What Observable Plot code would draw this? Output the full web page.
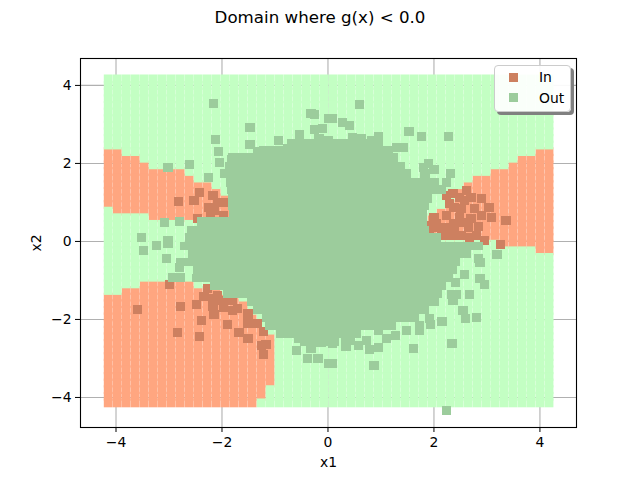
<!DOCTYPE html>
<html><head><meta charset="utf-8">
<script src="https://cdn.jsdelivr.net/npm/d3@7"></script>
<script src="https://cdn.jsdelivr.net/npm/@observablehq/plot@0.6"></script>
<style>
body{margin:0;background:#fff;font-family:"DejaVu Sans",sans-serif}
#wrap{position:relative;width:640px;height:480px}
#title{position:absolute;left:0;top:8px;width:640px;text-align:center;font-size:16.67px;line-height:20px;color:#000}
#legend{position:absolute;left:494px;top:65px;width:75px;height:45px;background:rgba(255,255,255,.92);border:1px solid #ccc;border-radius:4px;box-shadow:3px 3px 0 #808080;font-size:13.9px;color:#000}
#legend i{position:absolute;left:14px;width:9px;height:9px}
#legend span{position:absolute;left:44px;line-height:16px}
svg{display:block}
</style></head><body>
<div id="wrap"><div id="chart"></div><div id="title">Domain where g(x) &lt; 0.0</div>
<div id="legend"><i style="top:7px;background:#cd8060"></i><span style="top:3px">In</span><i style="top:27px;background:#9ccc9c"></i><span style="top:24px">Out</span></div></div>
<script>
const gridX=[-4.147,-3.977,-3.808,-3.638,-3.468,-3.298,-3.129,-2.959,-2.789,-2.619,-2.45,-2.28,-2.11,-1.94,-1.771,-1.601,-1.431,-1.261,-1.092,-0.922,-0.752,-0.582,-0.413,-0.243,-0.073,0.097,0.267,0.436,0.606,0.776,0.946,1.115,1.285,1.455,1.625,1.794,1.964,2.134,2.304,2.473,2.643,2.813,2.983,3.152,3.322,3.492,3.662,3.831,4.001,4.171];
const gridY=[4.167,3.998,3.828,3.659,3.489,3.32,3.15,2.981,2.811,2.642,2.472,2.303,2.133,1.964,1.794,1.625,1.455,1.286,1.116,0.947,0.777,0.608,0.438,0.269,0.099,-0.071,-0.24,-0.41,-0.579,-0.749,-0.918,-1.088,-1.257,-1.427,-1.596,-1.766,-1.935,-2.105,-2.274,-2.444,-2.613,-2.783,-2.952,-3.122,-3.291,-3.461,-3.63,-3.8,-3.969,-4.139];
// "In" runs of the grid: row index, first column, last column
const inSpans=[[11,0,1],[12,0,3],[13,0,4],[14,0,8],[15,0,9],[16,0,11],[17,0,12],[18,0,13],[19,0,13],[20,1,13],[21,5,14],
[11,48,49],[12,46,49],[13,45,49],[14,43,49],[15,41,49],[16,40,49],[17,39,49],[18,39,49],[19,38,49],[20,37,49],[21,36,49],[22,36,49],[23,36,49],[24,36,49],[25,44,49],[26,48,49],
[31,4,9],[32,2,12],[33,0,14],[34,0,15],[35,0,15],[36,0,16],[37,0,16],[38,0,17],[39,0,18],[40,0,18],[41,0,18],[42,0,18],[43,0,18],[44,0,18],[45,0,18],[46,0,18],[47,0,17],[48,0,17],[49,0,16]];
const inPoints=[[3.25,-0.08],[3.36,0.54],[2.84,0.38],[2.95,0.03],[3.08,0.62],[2.89,1.1],[2.61,1.31],[2.36,1.23],[2.57,1.05],[2.38,0.87],[2.76,0.85],[3.04,0.87],[2.04,0.46],[2,0.62],[2.19,0.21],[2.51,0.15],[2.65,0.36],[2.38,0.46],[2.23,0.36],[2.48,0.62],[1.91,0.28],[2.08,0.36],[2.67,0.1],[2.29,0.97],[2.23,0.67],[1.95,0.41],[2.14,0.15],[2.32,0.15],[2.7,0.59],[2.51,0.85],[2.7,1.13],[2.48,1.13],[2.89,0.67],[2.8,0.15],[2.38,0.28],[2.55,0.49],[2.23,1.18],
[-2.82,1.03],[-2.42,1.26],[-2.53,1.05],[-2.17,1.18],[-2.08,1],[-2.25,0.87],[-2.15,0.79],[-1.97,0.67],[-2.46,0.59],[-2.21,0.67],[-1.98,1],
[-3.59,-1.74],[-2.99,-1.1],[-2.78,-1.67],[-2.48,-1.62],[-2.38,-2.03],[-2.84,-2.33],[-2.42,-2.44],[-2.27,-1.21],[-2.34,-1.41],[-2.17,-1.46],[-2.08,-1.38],[-2.17,-1.67],[-2.15,-1.87],[-1.97,-1.69],[-1.7,-1.72],[-1.8,-1.77],[-1.89,-2.13],[-1.51,-1.85],[-1.51,-2.1],[-1.34,-2.1],[-1.68,-2.33],[-1.51,-2.49],[-1.25,-2.67],[-1.17,-2.64],[-1.21,-2.9],[-1.21,-2.31],[-1.51,-1.97],[-1.98,-1.51],[-1.8,-1.51]];
const outPoints=[[-2.155,3.54],[-1.47,2.92],[-2.12,2.62],[-2.06,2.31],[-2.04,2.03],[-1.47,2.49],[-0.93,2.59],[-0.32,3.28],[-0.26,3.26],[-3.02,1.9],[-2.61,1.97],[-2.25,1.64],[-3.08,0.49],[-2.8,0.51],[-3.52,0.1],[-3.02,0.03],[-1.81,2.1],[-1.64,2.15],[-1.76,1.85],[-1.95,1.74],[-0.53,2.74],[-0.25,2.87],[-0.11,2.9],[0.02,3.15],[-0.17,2.64],[0,2.59],[-0.64,2.41],[-0.76,2.38],[-1.32,2.31],[-1.13,2.21],[-0.95,2.26],[-1.42,2.13],
[0.6,3.51],[0.09,3.15],[0.28,3.05],[0.4,2.97],[1.53,2.82],[1.76,2.69],[2.27,2.69],[0.96,2.69],[0.83,2.59],[0.64,2.64],[0.47,2.67],[0.15,2.38],[1.29,2.41],[1.42,2.41],[1.89,2],[2,1.85],[1.81,1.9],[1.83,1.74],[2.31,1.74],[2.23,1.51],[0.34,2.38],[0.53,2.44],[0.72,2.41],[0.91,2.38],[1.1,2.28],[-0.51,2.44],[-0.32,2.44],[-0.13,2.46],[0.06,2.38],
[-3.48,-0.23],[-3.23,-0.1],[-3.02,-0.05],[-3.04,-0.44],[-2.8,-0.67],[-2.93,-0.92],[-2.78,-0.92],
[-0.59,-2.79],[-0.55,-2.49],[-0.38,-3],[-0.19,-3],[-0.32,-2.74],[0.02,-3.13],[0.09,-2.62],[0.34,-2.69],[0.57,-2.67],[0.95,-2.72],[0.78,-2.77],[0.09,-3.13],[0.87,-3.18],[1.61,-2.74],[2.34,-2.62],[2.23,-4.33],[2.15,-2.05],[1.91,-1.97],[1.93,-2.13],[1.72,-2.15],[1.72,-2.28],[1.27,-2.41],[0.96,-2.28],[0.53,-2.36],[2.67,-1.36],[2.36,-1.51],[2.33,-1.36],[2.42,-1.36],[2.55,-1.77],[2.59,-1.97],[2.8,-1.95],[2.57,-0.85],[2.4,-1.05],[2.87,-0.95],[2.95,-1.1],[2.84,-0.44],[2.87,-0.54],[3.19,-0.33],[-0.32,-2.54],[-0.13,-2.59],[0.43,-2.54],[0.72,-2.54],[1.1,-2.49],[1.48,-2.28],[0.34,-2.49]];
// The dense centre of the "Out" cloud cannot be read point by point: its extent per row
const coreY=[2.51,2.33,2.13,1.92,1.72,1.51,1.31,1.1,0.9,0.69,0.49,0.28,0.08,-0.13,-0.33,-0.54,-0.74,-0.95,-1.15,-1.36,-1.56,-1.77,-1.97,-2.18,-2.38,-2.59];
const coreLeft=[-0.76,-1.3,-1.87,-1.93,-1.95,-1.91,-1.89,-1.87,-1.87,-1.85,-2.46,-2.65,-2.69,-2.78,-2.64,-2.85,-2.53,-2.55,-2.21,-1.97,-1.51,-1.4,-1.23,-1.17,-0.98,-0.51];
const coreRight=[1.04,1.23,1.34,1.47,1.57,2.1,2.23,1.98,1.91,1.87,1.87,1.91,2.14,2.93,2.71,2.51,2.44,2.36,2.23,2.17,2.1,1.91,1.72,1.29,0.62,0.21];
const ticksX=[-4,-2,0,2,4], ticksY=[-4,-2,0,2,4];

const isIn=new Set();
for(const [r,a,b] of inSpans) for(let j=a;j<=b;j++) isIn.add(r+"_"+j);
const inCells=[],outCells=[];
gridY.forEach((y,r)=>gridX.forEach((x,j)=>(isIn.has(r+"_"+j)?inCells:outCells).push([x,y])));
const sq=(d,fill,r,extra={})=>Plot.dot(d,{x:"0",y:"1",symbol:"square",r,fill,stroke:"none",...extra});
const core=coreY.map((y,i)=>({y,l:coreLeft[i],r:coreRight[i]}));
const fmt=d=>d<0?"\u2212"+(-d):""+d;
const plot=Plot.plot({width:640,height:480,marginLeft:80,marginRight:64,marginTop:58,marginBottom:53,
 style:{fontFamily:"DejaVu Sans",fontSize:"13.9px",background:"#fff",color:"#000"},
 x:{domain:[-4.67,4.69],label:null},y:{domain:[-4.77,4.69],label:null},
 marks:[
  Plot.gridX(ticksX,{stroke:"#b0b0b0",strokeOpacity:1,strokeWidth:1.1}),
  Plot.gridY(ticksY,{stroke:"#b0b0b0",strokeOpacity:1,strokeWidth:1.1}),
  sq(inCells,"#ffa680",4.98),sq(outCells,"#c3ffc3",4.98),
  sq(inPoints,"#cd8060",5.2,{shapeRendering:"crispEdges"}),sq(outPoints,"#9ccc9c",5.2,{shapeRendering:"crispEdges"}),
  Plot.rect(core,{x1:"l",x2:"r",y1:d=>d.y-0.115,y2:d=>d.y+0.115,fill:"#9ccc9c",shapeRendering:"crispEdges"}),
  Plot.frame({stroke:"#000",strokeWidth:1.1}),
  Plot.axisX(ticksX,{tickSize:5,tickPadding:5,fontSize:13.9,label:"x1",labelAnchor:"center",labelArrow:"none",labelOffset:39,tickFormat:fmt}),
  Plot.axisY(ticksY,{tickSize:5,tickPadding:4,fontSize:13.9,label:"x2",labelAnchor:"center",labelArrow:"none",labelOffset:49,tickFormat:fmt})
 ]});
document.getElementById("chart").append(plot);
</script></body></html>
